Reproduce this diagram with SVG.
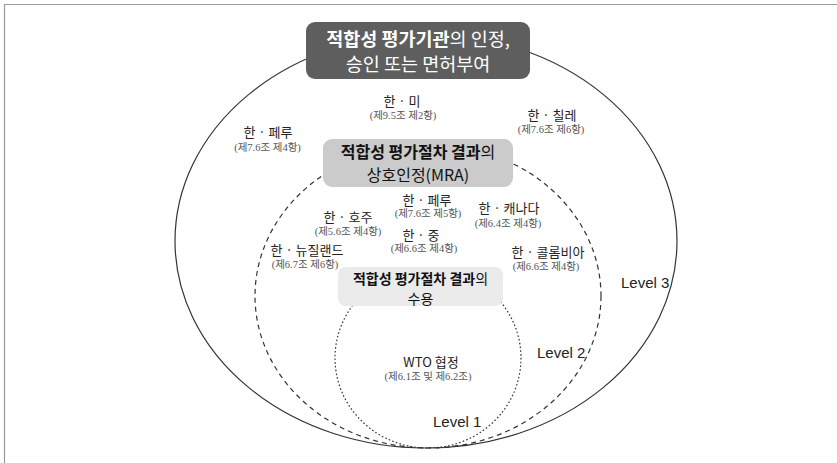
<svg xmlns="http://www.w3.org/2000/svg" width="837" height="463" viewBox="0 0 837 463">
<style>
.frame{fill:none;stroke:#9a9a9a;stroke-width:1.2}
.lv{fill:none;stroke:#333;stroke-width:1.2}
.lv2{stroke-dasharray:5 4}
.lv1{stroke-dasharray:1.6 2.2}
.k{font-family:"Noto Sans CJK KR","Liberation Sans",sans-serif;text-anchor:middle}
.pair{font-size:13px;fill:#222}
.art{font-family:"Liberation Serif","Noto Sans CJK KR",serif;font-size:10.5px;fill:#555;text-anchor:middle}
.lvl{font-family:"Liberation Sans","Noto Sans",sans-serif;font-size:15px;fill:#222}
.b{font-weight:bold}
</style>
<rect width="837" height="463" fill="#fff"/>
<path class="frame" d="M4.5 463 V4.5 H837"/>
<g id="levels">
<ellipse class="lv" cx="426" cy="241" rx="251" ry="207"/>
<ellipse class="lv lv2" cx="428" cy="296" rx="173" ry="152"/>
<ellipse class="lv lv1" cx="428" cy="358" rx="93" ry="90"/>
</g>
<g id="box-top">
<rect x="306" y="22" width="224" height="57" rx="9" fill="#5e5e5e"/>
<text class="k" x="418" y="46" font-size="18.5" fill="#fff"><tspan class="b">적합성 평가기관</tspan>의 인정,</text>
<text class="k" x="418" y="71" font-size="18.5" fill="#fff">승인 또는 면허부여</text>
</g>
<g id="box-mra">
<rect x="323" y="139" width="190" height="48" rx="9" fill="#cbcbcb"/>
<text class="k" x="418" y="158" font-size="16" fill="#111"><tspan class="b">적합성 평가절차 결과</tspan>의</text>
<text class="k" x="418" y="181" font-size="16" fill="#111">상호인정(MRA)</text>
</g>
<g id="box-accept">
<rect x="338" y="267" width="165" height="39" rx="8" fill="#ebebeb"/>
<text class="k" x="420.5" y="283.5" font-size="14" fill="#111"><tspan class="b">적합성 평가절차 결과</tspan>의</text>
<text class="k" x="420.5" y="304" font-size="14" fill="#111">수용</text>
</g>
<g id="kor-us"><text class="k pair" x="402" y="106">한 · 미</text><text class="art" x="403" y="119">(제9.5조 제2항)</text></g>
<g id="kor-chile"><text class="k pair" x="552" y="120">한 · 칠레</text><text class="art" x="551" y="133">(제7.6조 제6항)</text></g>
<g id="kor-peru-l3"><text class="k pair" x="268" y="137">한 · 페루</text><text class="art" x="267.5" y="151">(제7.6조 제4항)</text></g>
<g id="kor-peru-l2"><text class="k pair" x="427" y="205">한 · 페루</text><text class="art" x="428" y="217">(제7.6조 제5항)</text></g>
<g id="kor-australia"><text class="k pair" x="348" y="222">한 · 호주</text><text class="art" x="348" y="235">(제5.6조 제4항)</text></g>
<g id="kor-canada"><text class="k pair" x="509" y="213">한 · 캐나다</text><text class="art" x="508" y="227">(제6.4조 제4항)</text></g>
<g id="kor-china"><text class="k pair" x="421" y="240">한 · 중</text><text class="art" x="424" y="252">(제6.6조 제4항)</text></g>
<g id="kor-nz"><text class="k pair" x="307" y="255">한 · 뉴질랜드</text><text class="art" x="305" y="268">(제6.7조 제6항)</text></g>
<g id="kor-colombia"><text class="k pair" x="548" y="257">한 · 콜롬비아</text><text class="art" x="546" y="270">(제6.6조 제4항)</text></g>
<g id="wto"><text class="k" x="431" y="367" font-size="13" fill="#222">WTO 협정</text><text class="art" x="428" y="380">(제6.1조 및 제6.2조)</text></g>
<g id="level-labels">
<text class="lvl" x="621" y="288">Level 3</text>
<text class="lvl" x="537" y="358">Level 2</text>
<text class="lvl" x="433" y="427">Level 1</text>
</g>
<g id="connectors"/>
</svg>
